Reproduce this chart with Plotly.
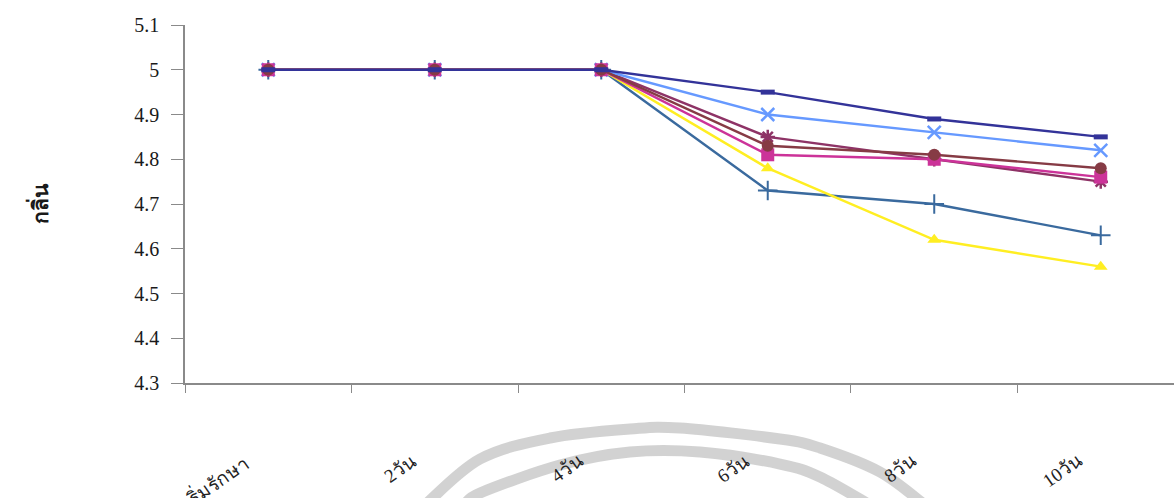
import plotly.graph_objects as go

# Storage time points (categories) and sensory odour scores (กลิ่น)
days = ["เริ่มรักษา", "2วัน", "4วัน", "6วัน", "8วัน", "10วัน"]

score_square = [5, 5, 5, 4.81, 4.80, 4.76]
score_triangle = [5, 5, 5, 4.78, 4.62, 4.56]
score_x = [5, 5, 5, 4.90, 4.86, 4.82]
score_star = [5, 5, 5, 4.85, 4.80, 4.75]
score_circle = [5, 5, 5, 4.83, 4.81, 4.78]
score_plus = [5, 5, 5, 4.73, 4.70, 4.63]
score_dash = [5, 5, 5, 4.95, 4.89, 4.85]

y_ticks = [4.3, 4.4, 4.5, 4.6, 4.7, 4.8, 4.9, 5.0, 5.1]
y_tick_text = ["4.3", "4.4", "4.5", "4.6", "4.7", "4.8", "4.9", "5", "5.1"]

# drawing order: later traces sit on top where the markers overlap
series = [
    (score_plus, "#3A6A9E", "cross-thin", 14, 2),
    (score_star, "#8E3366", "asterisk", 12, 2.5),
    (score_x, "#6699FF", "x-thin", 13, 2.5),
    (score_triangle, "#FFEE22", "triangle-up", 12, 0),
    (score_square, "#CC3399", "square", 13, 0),
    (score_circle, "#863B45", "circle", 12, 0),
    (score_dash, "#333399", "line-ew", 10, 5),
]

fig = go.Figure()
for vals, color, symbol, size, lw in series:
    marker = dict(symbol=symbol, size=size, color=color)
    if lw:
        marker["line"] = dict(color=color, width=lw)
    fig.add_trace(go.Scatter(
        x=days, y=vals, mode="lines+markers",
        line=dict(color=color, width=2.4),
        marker=marker, showlegend=False,
    ))

# Plot-area geometry in pixels, used for the decorative arcs below
L, T, B, R, W, H = 185, 25, 115, 0, 1174, 498
pw, ph = W - L - R, H - T - B


def to_paper(px, py):
    return (px - L) / pw, (H - B - py) / ph


def smooth_path(points):
    # Catmull-Rom through the points, written as cubic Bezier segments
    p = [to_paper(*pt) for pt in points]
    d = "M {:.4f},{:.4f}".format(*p[0])
    for i in range(len(p) - 1):
        p0 = p[i - 1] if i > 0 else p[i]
        p1, p2 = p[i], p[i + 1]
        p3 = p[i + 2] if i + 2 < len(p) else p2
        c1 = (p1[0] + (p2[0] - p0[0]) / 6, p1[1] + (p2[1] - p0[1]) / 6)
        c2 = (p2[0] - (p3[0] - p1[0]) / 6, p2[1] - (p3[1] - p1[1]) / 6)
        d += " C {:.4f},{:.4f} {:.4f},{:.4f} {:.4f},{:.4f}".format(*c1, *c2, *p2)
    return d


# faint grey double arc stamped across the lower part of the page
arcs = [
    [(425, 505), (480, 459), (550, 438), (630, 429), (680, 428),
     (780, 439), (820, 448), (880, 472), (925, 505)],
    [(465, 505), (480, 493), (560, 465), (630, 452), (700, 452),
     (780, 464), (820, 477), (870, 505)],
]
shapes = [
    dict(type="path", xref="paper", yref="paper", path=smooth_path(a),
         line=dict(color="rgba(205,205,205,0.9)", width=11), layer="below")
    for a in arcs
]

# x category labels, slanted and set below the axis
annotations = [
    dict(x=d, y=to_paper(0, 447)[1], xref="x", yref="paper", text=d,
         textangle=-35, xanchor="right", yanchor="top", xshift=-12,
         showarrow=False,
         font=dict(family="Liberation Serif, Tahoma, sans-serif", size=19, color="#222"))
    for d in days
]

fig.update_layout(
    width=W, height=H,
    margin=dict(l=L, r=R, t=T, b=B),
    paper_bgcolor="white", plot_bgcolor="white",
    font=dict(family="Liberation Serif", size=20, color="#1a1a1a"),
    shapes=shapes, annotations=annotations,
    xaxis=dict(
        type="category", categoryorder="array", categoryarray=days,
        range=[-0.5, 5.44], showticklabels=False,
        showline=True, linecolor="#8a8a8a", linewidth=1.5,
        ticks="outside", tickson="boundaries", ticklen=8, tickcolor="#8a8a8a",
        showgrid=False, zeroline=False,
    ),
    yaxis=dict(
        range=[4.3, 5.1], tickvals=y_ticks, ticktext=y_tick_text,
        showline=True, linecolor="#8a8a8a", linewidth=1.5,
        ticks="outside", ticklen=12, tickcolor="#8a8a8a", ticklabelstandoff=8,
        showgrid=False, zeroline=False,
        title=dict(text="<b>กลิ่น</b>", standoff=80,
                   font=dict(family="Tahoma, Noto Sans, sans-serif", size=21)),
    ),
)

fig.write_html("out.html")
